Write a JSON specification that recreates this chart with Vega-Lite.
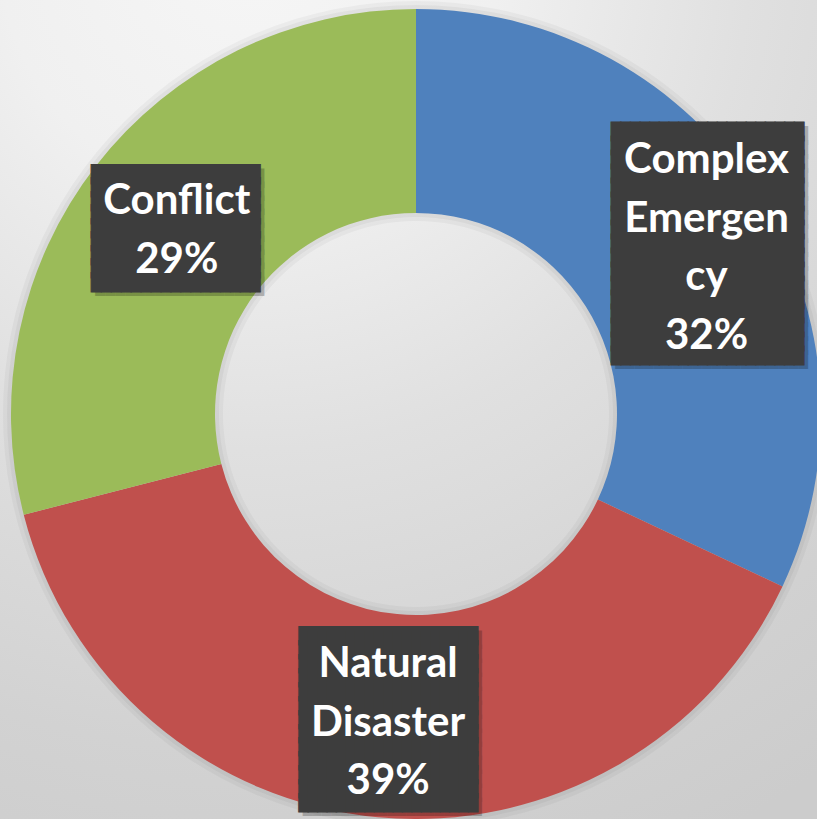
{
  "$schema": "https://vega.github.io/schema/vega-lite/v6.json",
  "autosize": {"type": "none"},
  "width": 802,
  "height": 810,
  "padding": {"left": 15, "top": 9, "right": 0, "bottom": 0},
  "background": "#e6e6e6",
  "config": {"view": {"stroke": null}},
  "data": {
    "values": [
      {"category": "Complex Emergency", "value": 32, "rank": 1, "label": "Complex|Emergen|cy|32%"},
      {"category": "Natural Disaster", "value": 39, "rank": 2, "label": "Natural|Disaster|39%"},
      {"category": "Conflict", "value": 29, "rank": 3, "label": "Conflict|29%"}
    ]
  },
  "layer": [
    {
      "data": {"values": [{"k": 1}]},
      "mark": {
        "type": "arc", "theta": 0, "theta2": 6.2832, "innerRadius": 0, "outerRadius": 1000, "stroke": null,
        "fill": {
          "gradient": "radial", "x1": 0.417, "y1": 0.268, "r1": 0, "x2": 0.417, "y2": 0.268, "r2": 0.5,
          "stops": [
            {"offset": 0, "color": "#f6f6f6"},
            {"offset": 0.25, "color": "#f0f0f0"},
            {"offset": 0.5, "color": "#e0e0e0"},
            {"offset": 0.8, "color": "#d2d2d2"},
            {"offset": 1, "color": "#cccccc"}
          ]
        }
      },
      "encoding": {}
    },
    {
      "data": {"values": [{"k": 1}]},
      "mark": {"type": "arc", "theta": 0, "theta2": 6.2832, "innerRadius": 193, "outerRadius": 413, "fill": "#000000", "fillOpacity": 0.035, "stroke": null},
      "encoding": {}
    },
    {
      "data": {"values": [{"k": 1}]},
      "mark": {"type": "arc", "theta": 0, "theta2": 6.2832, "innerRadius": 197, "outerRadius": 409, "fill": "#000000", "fillOpacity": 0.04, "stroke": null},
      "encoding": {}
    },
    {
      "encoding": {
        "theta": {"field": "value", "type": "quantitative", "stack": true},
        "order": {"field": "rank", "type": "quantitative"},
        "detail": {"field": "category", "type": "nominal"}
      },
      "layer": [
        {
          "mark": {"type": "arc", "innerRadius": 201, "outerRadius": 405, "stroke": null},
          "encoding": {
            "color": {
              "field": "category", "type": "nominal", "legend": null,
              "scale": {"domain": ["Complex Emergency", "Natural Disaster", "Conflict"], "range": ["#4f81bd", "#c0504d", "#9bbb59"]}
            }
          }
        },
        {
          "mark": {"type": "text", "font": "DejaVu Sans Mono", "fontSize": 16, "lineHeight": 14, "align": "center", "baseline": "middle", "radius": 337, "dx": 11, "dy": -97,
            "text": ["████████████████████","████████████████████","████████████████████","████████████████████","████████████████████","████████████████████","████████████████████","████████████████████","████████████████████","████████████████████","████████████████████","████████████████████","████████████████████","████████████████████","████████████████████","████████████████████","████████████████████"]},
          "encoding": {
            "color": {"value": "#000000"},
            "opacity": {"condition": {"test": "datum.category === 'Complex Emergency'", "value": 0.22}, "value": 0}
          }
        },
        {
          "mark": {"type": "text", "font": "DejaVu Sans Mono", "fontSize": 16, "lineHeight": 14, "align": "center", "baseline": "middle", "radius": 337, "dx": 7, "dy": -101, "stroke": "#3d3d3d", "strokeWidth": 1,
            "text": ["████████████████████","████████████████████","████████████████████","████████████████████","████████████████████","████████████████████","████████████████████","████████████████████","████████████████████","████████████████████","████████████████████","████████████████████","████████████████████","████████████████████","████████████████████","████████████████████","████████████████████"]},
          "encoding": {
            "color": {"value": "#3d3d3d"},
            "opacity": {"condition": {"test": "datum.category === 'Complex Emergency'", "value": 1}, "value": 0}
          }
        },
        {
          "mark": {"type": "text", "font": "DejaVu Sans Mono", "fontSize": 16.5, "lineHeight": 13.5, "align": "center", "baseline": "middle", "radius": 304, "dx": 4, "dy": -49,
            "text": ["█████████████████","█████████████████","█████████████████","█████████████████","█████████████████","█████████████████","█████████████████","█████████████████","█████████████████"]},
          "encoding": {
            "color": {"value": "#000000"},
            "opacity": {"condition": {"test": "datum.category === 'Conflict'", "value": 0.22}, "value": 0}
          }
        },
        {
          "mark": {"type": "text", "font": "DejaVu Sans Mono", "fontSize": 16.5, "lineHeight": 13.5, "align": "center", "baseline": "middle", "radius": 304, "dx": 0, "dy": -53, "stroke": "#3d3d3d", "strokeWidth": 1,
            "text": ["█████████████████","█████████████████","█████████████████","█████████████████","█████████████████","█████████████████","█████████████████","█████████████████","█████████████████"]},
          "encoding": {
            "color": {"value": "#3d3d3d"},
            "opacity": {"condition": {"test": "datum.category === 'Conflict'", "value": 1}, "value": 0}
          }
        },
        {
          "mark": {"type": "text", "font": "DejaVu Sans Mono", "fontSize": 15.65, "lineHeight": 13.9, "align": "center", "baseline": "middle", "radius": 307, "dx": 5, "dy": -79.4,
            "text": ["███████████████████","███████████████████","███████████████████","███████████████████","███████████████████","███████████████████","███████████████████","███████████████████","███████████████████","███████████████████","███████████████████","███████████████████","███████████████████"]},
          "encoding": {
            "color": {"value": "#000000"},
            "opacity": {"condition": {"test": "datum.category === 'Natural Disaster'", "value": 0.22}, "value": 0}
          }
        },
        {
          "mark": {"type": "text", "font": "DejaVu Sans Mono", "fontSize": 15.65, "lineHeight": 13.9, "align": "center", "baseline": "middle", "radius": 307, "dx": 1, "dy": -83.4, "stroke": "#3d3d3d", "strokeWidth": 1,
            "text": ["███████████████████","███████████████████","███████████████████","███████████████████","███████████████████","███████████████████","███████████████████","███████████████████","███████████████████","███████████████████","███████████████████","███████████████████","███████████████████"]},
          "encoding": {
            "color": {"value": "#3d3d3d"},
            "opacity": {"condition": {"test": "datum.category === 'Natural Disaster'", "value": 1}, "value": 0}
          }
        },
        {
          "mark": {"type": "text", "font": "Lato", "fontWeight": "bold", "fontSize": 42, "lineHeight": 58.5, "lineBreak": "|", "align": "center", "baseline": "middle", "radius": 337, "dx": 6, "dy": -73},
          "encoding": {
            "text": {"field": "label", "type": "nominal"},
            "color": {"value": "#ffffff"},
            "opacity": {"condition": {"test": "datum.category === 'Complex Emergency'", "value": 1}, "value": 0}
          }
        },
        {
          "mark": {"type": "text", "font": "Lato", "fontWeight": "bold", "fontSize": 42, "lineHeight": 58.5, "lineBreak": "|", "align": "center", "baseline": "middle", "radius": 304, "dx": 1, "dy": -26.5},
          "encoding": {
            "text": {"field": "label", "type": "nominal"},
            "color": {"value": "#ffffff"},
            "opacity": {"condition": {"test": "datum.category === 'Conflict'", "value": 1}, "value": 0}
          }
        },
        {
          "mark": {"type": "text", "font": "Lato", "fontWeight": "bold", "fontSize": 42, "lineHeight": 58.5, "lineBreak": "|", "align": "center", "baseline": "middle", "radius": 307, "dx": 1, "dy": -55.5},
          "encoding": {
            "text": {"field": "label", "type": "nominal"},
            "color": {"value": "#ffffff"},
            "opacity": {"condition": {"test": "datum.category === 'Natural Disaster'", "value": 1}, "value": 0}
          }
        }
      ]
    }
  ]
}
